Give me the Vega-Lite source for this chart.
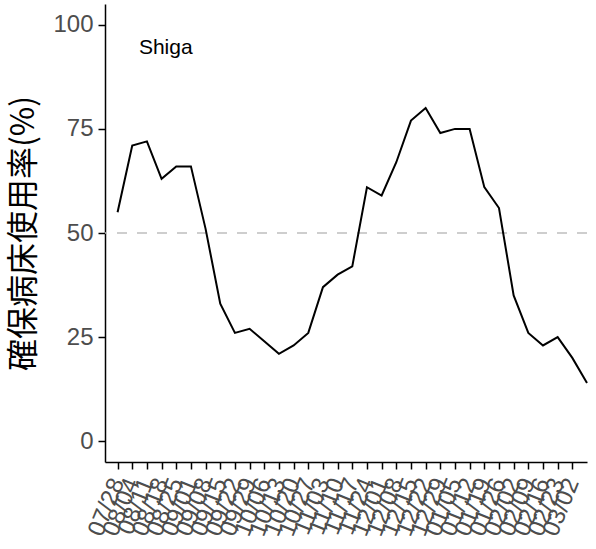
{
  "$schema": "https://vega.github.io/schema/vega-lite/v6.json",
  "width": 482,
  "height": 458,
  "autosize": "none",
  "padding": {"left": 105, "top": 4, "right": 9, "bottom": 87},
  "background": "white",
  "config": {
    "view": {"stroke": null},
    "axis": {
      "grid": false,
      "domainColor": "black",
      "domainWidth": 1.5,
      "tickColor": "black",
      "tickWidth": 1.5,
      "tickSize": 7,
      "labelFont": "Liberation Sans",
      "labelFontSize": 24,
      "labelColor": "#4D4D4D"
    }
  },
  "data": {
    "values": [
      {"date": "2021-07-28", "rate": 55},
      {"date": "2021-08-04", "rate": 71},
      {"date": "2021-08-11", "rate": 72},
      {"date": "2021-08-18", "rate": 63},
      {"date": "2021-08-25", "rate": 66},
      {"date": "2021-09-01", "rate": 66},
      {"date": "2021-09-08", "rate": 51},
      {"date": "2021-09-15", "rate": 33},
      {"date": "2021-09-22", "rate": 26},
      {"date": "2021-09-29", "rate": 27},
      {"date": "2021-10-06", "rate": 24},
      {"date": "2021-10-13", "rate": 21},
      {"date": "2021-10-20", "rate": 23},
      {"date": "2021-10-27", "rate": 26},
      {"date": "2021-11-03", "rate": 37},
      {"date": "2021-11-10", "rate": 40},
      {"date": "2021-11-17", "rate": 42},
      {"date": "2021-11-24", "rate": 61},
      {"date": "2021-12-01", "rate": 59},
      {"date": "2021-12-08", "rate": 67},
      {"date": "2021-12-15", "rate": 77},
      {"date": "2021-12-22", "rate": 80},
      {"date": "2021-12-29", "rate": 74},
      {"date": "2022-01-05", "rate": 75},
      {"date": "2022-01-12", "rate": 75},
      {"date": "2022-01-19", "rate": 61},
      {"date": "2022-01-26", "rate": 56},
      {"date": "2022-02-02", "rate": 35},
      {"date": "2022-02-09", "rate": 26},
      {"date": "2022-02-16", "rate": 23},
      {"date": "2022-02-23", "rate": 25},
      {"date": "2022-03-02", "rate": 20},
      {"date": "2022-03-09", "rate": 14}
    ]
  },
  "encoding": {
    "x": {
      "field": "date",
      "type": "temporal",
      "scale": {
        "type": "utc",
        "domain": [
          {"year": 2021, "month": 7, "date": 22, "utc": true},
          {"year": 2022, "month": 3, "date": 9, "utc": true}
        ]
      },
      "axis": {
        "title": null,
        "format": "%m/%d",
        "labelAngle": -68,
        "labelAlign": "right",
        "labelBaseline": "middle",
        "labelOverlap": false,
        "labelBound": false,
        "labelFlush": false,
        "labelPadding": 10,
        "labelDx": -3,
        "values": [
          {"year": 2021, "month": 7, "date": 28, "utc": true},
          {"year": 2021, "month": 8, "date": 4, "utc": true},
          {"year": 2021, "month": 8, "date": 11, "utc": true},
          {"year": 2021, "month": 8, "date": 18, "utc": true},
          {"year": 2021, "month": 8, "date": 25, "utc": true},
          {"year": 2021, "month": 9, "date": 1, "utc": true},
          {"year": 2021, "month": 9, "date": 8, "utc": true},
          {"year": 2021, "month": 9, "date": 15, "utc": true},
          {"year": 2021, "month": 9, "date": 22, "utc": true},
          {"year": 2021, "month": 9, "date": 29, "utc": true},
          {"year": 2021, "month": 10, "date": 6, "utc": true},
          {"year": 2021, "month": 10, "date": 13, "utc": true},
          {"year": 2021, "month": 10, "date": 20, "utc": true},
          {"year": 2021, "month": 10, "date": 27, "utc": true},
          {"year": 2021, "month": 11, "date": 3, "utc": true},
          {"year": 2021, "month": 11, "date": 10, "utc": true},
          {"year": 2021, "month": 11, "date": 17, "utc": true},
          {"year": 2021, "month": 11, "date": 24, "utc": true},
          {"year": 2021, "month": 12, "date": 1, "utc": true},
          {"year": 2021, "month": 12, "date": 8, "utc": true},
          {"year": 2021, "month": 12, "date": 15, "utc": true},
          {"year": 2021, "month": 12, "date": 22, "utc": true},
          {"year": 2021, "month": 12, "date": 29, "utc": true},
          {"year": 2022, "month": 1, "date": 5, "utc": true},
          {"year": 2022, "month": 1, "date": 12, "utc": true},
          {"year": 2022, "month": 1, "date": 19, "utc": true},
          {"year": 2022, "month": 1, "date": 26, "utc": true},
          {"year": 2022, "month": 2, "date": 2, "utc": true},
          {"year": 2022, "month": 2, "date": 9, "utc": true},
          {"year": 2022, "month": 2, "date": 16, "utc": true},
          {"year": 2022, "month": 2, "date": 23, "utc": true},
          {"year": 2022, "month": 3, "date": 2, "utc": true}
        ]
      }
    },
    "y": {
      "field": "rate",
      "type": "quantitative",
      "scale": {"domain": [-5, 105], "nice": false, "zero": false},
      "axis": {
        "values": [0, 25, 50, 75, 100],
        "labelPadding": 5,
        "title": "確保病床使用率(%)",
        "titleFont": "Noto Sans CJK JP",
        "titleFontSize": 32,
        "titleFontWeight": "normal",
        "titleColor": "black",
        "titleAngle": -90,
        "titleAlign": "center",
        "titleBaseline": "middle",
        "titleX": -82,
        "titleY": 229
      }
    }
  },
  "layer": [
    {
      "data": {"values": [{"rate": 50}]},
      "mark": {"type": "rule", "color": "#BEBEBE", "strokeWidth": 1.5, "strokeDash": [10, 10]},
      "encoding": {"x": null}
    },
    {
      "mark": {"type": "line", "color": "black", "strokeWidth": 2}
    },
    {
      "data": {"values": [{"label": "Shiga", "date": "2021-08-20", "rate": 94.5}]},
      "mark": {"type": "text", "font": "Liberation Sans", "fontSize": 21, "color": "black", "align": "center", "baseline": "middle"},
      "encoding": {"text": {"field": "label"}}
    }
  ]
}
